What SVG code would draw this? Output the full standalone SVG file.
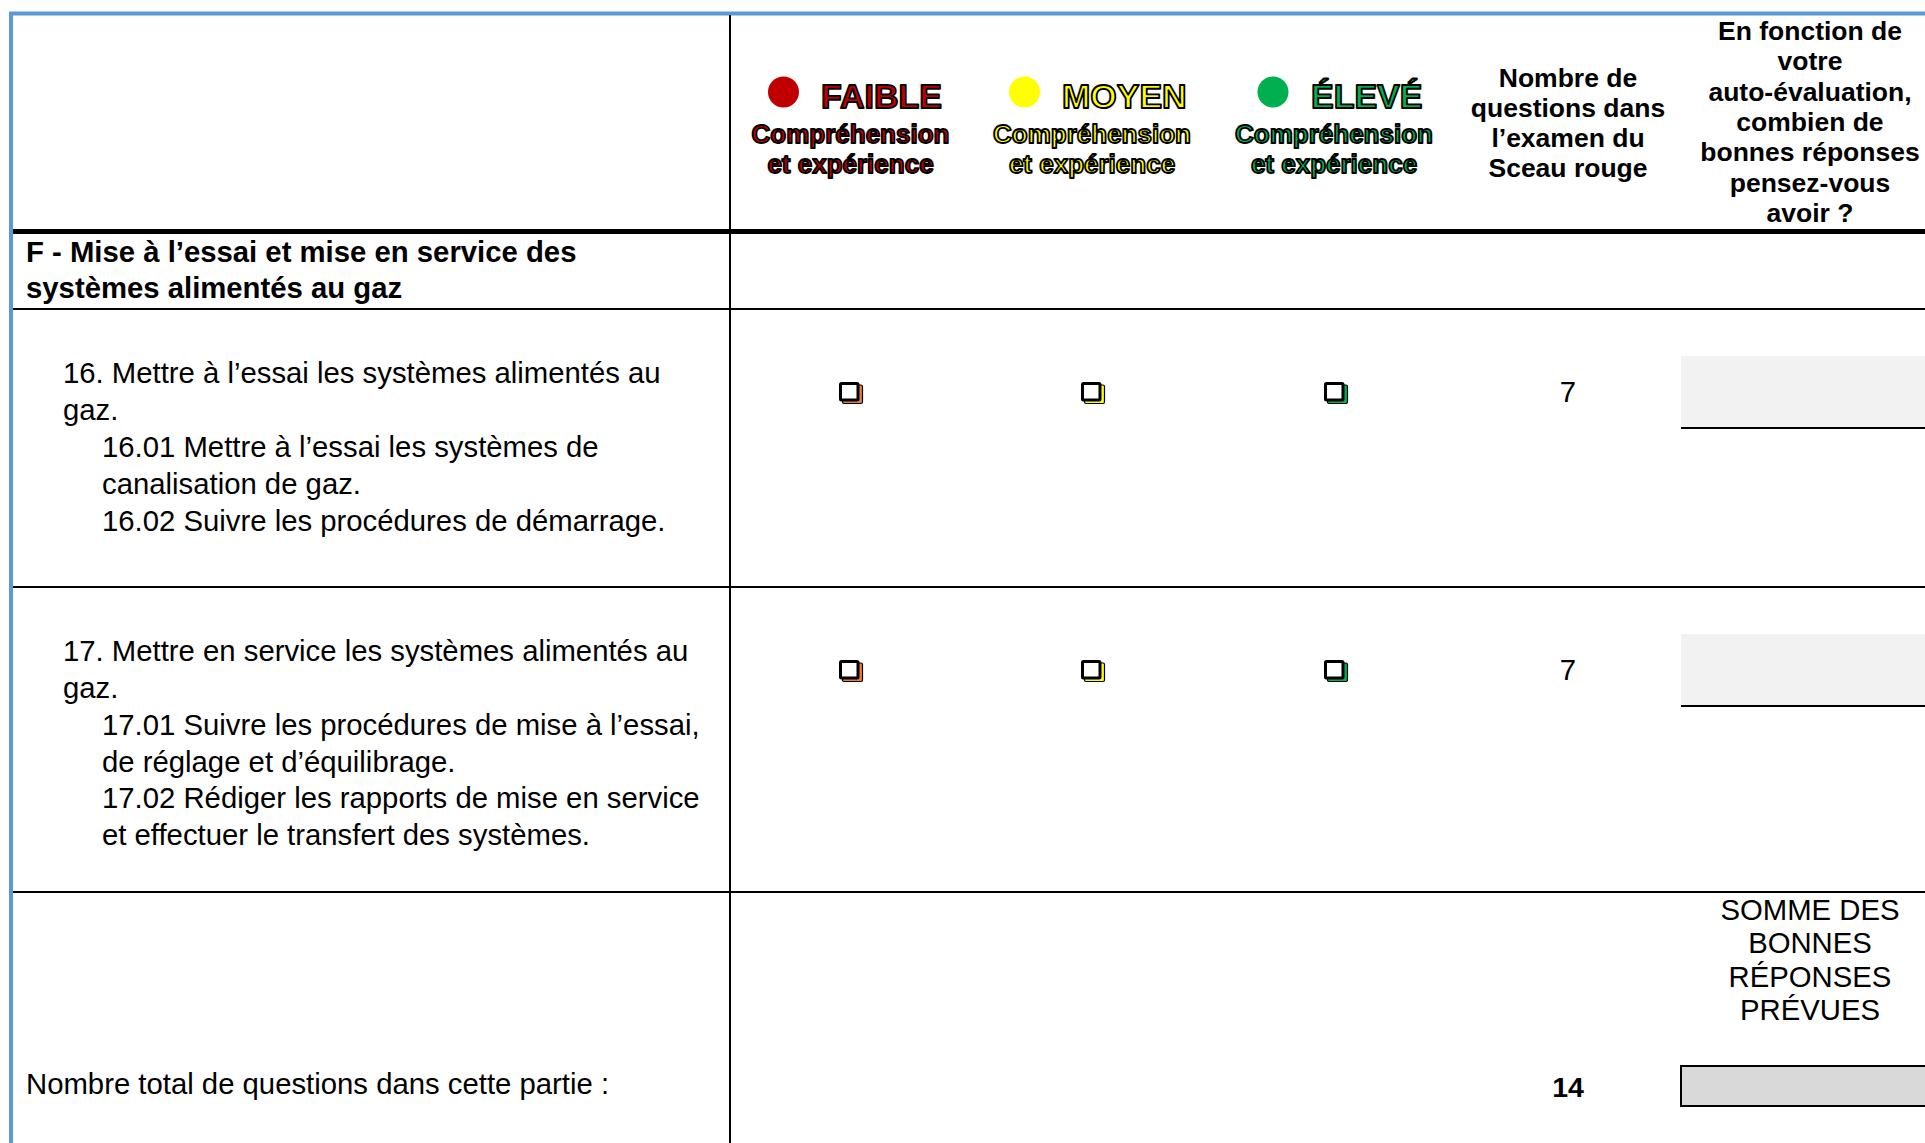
<svg xmlns="http://www.w3.org/2000/svg" xmlns:xlink="http://www.w3.org/1999/xlink" width="1925" height="1143" viewBox="0 0 1925 1143">
<style>
text{font-family:"Liberation Sans",Arial,sans-serif;fill:#000}
.b{font-weight:bold}
.body{font-size:29.3px}
.hdr{font-size:26.5px;font-weight:bold;text-anchor:middle}
.lvl{font-size:34px;font-weight:bold;stroke:#000;stroke-width:1.8;stroke-linejoin:round}
.sub{font-size:26px;font-weight:bold;text-anchor:middle;stroke:#000;stroke-width:1.8;stroke-linejoin:round}
.red{fill:#c00000}.yel{fill:#ffff00}.grn{fill:#00b050}
.mid{text-anchor:middle}
.ln{stroke:#000;fill:none}
</style>
<defs>
<g id="cb">
<rect x="3.5" y="3" width="20" height="18.5" rx="1.5" fill="currentColor" stroke="#000" stroke-width="1.2"/>
<rect x="1.5" y="1.5" width="17.5" height="16.5" rx="1" fill="#fff" stroke="#000" stroke-width="3"/>
</g>
</defs>
<rect width="1925" height="1143" fill="#fff"/>

<g id="connectors">
<path d="M11,1143 V13.5 H1925" fill="none" stroke="#5b9bd5" stroke-width="4"/>
<line class="ln" x1="730" y1="15" x2="730" y2="1143" stroke-width="2"/>
<line class="ln" x1="13" y1="231.5" x2="1925" y2="231.5" stroke-width="5"/>
<line class="ln" x1="13" y1="309" x2="1925" y2="309" stroke-width="2"/>
<line class="ln" x1="13" y1="587" x2="1925" y2="587" stroke-width="2"/>
<line class="ln" x1="13" y1="892" x2="1925" y2="892" stroke-width="2"/>
</g>

<g id="head-faible">
<circle cx="783.5" cy="92" r="15.5" fill="#c00000"/>
<text class="lvl red" x="821" y="108">FAIBLE</text>
<text class="sub red" x="850.5" y="143">Compréhension</text>
<text class="sub red" x="850.5" y="173">et expérience</text>
</g>
<g id="head-moyen">
<circle cx="1024.5" cy="92" r="15.5" fill="#ffff00"/>
<text class="lvl yel" x="1062" y="108">MOYEN</text>
<text class="sub yel" x="1092" y="143">Compréhension</text>
<text class="sub yel" x="1092" y="173">et expérience</text>
</g>
<g id="head-eleve">
<circle cx="1273" cy="92" r="15.5" fill="#00b050"/>
<text class="lvl grn" x="1311" y="108">ÉLEVÉ</text>
<text class="sub grn" x="1334" y="143">Compréhension</text>
<text class="sub grn" x="1334" y="173">et expérience</text>
</g>
<g id="head-nombre">
<text class="hdr" x="1568" y="87">Nombre de</text>
<text class="hdr" x="1568" y="117">questions dans</text>
<text class="hdr" x="1568" y="147">l’examen du</text>
<text class="hdr" x="1568" y="177">Sceau rouge</text>
</g>
<g id="head-auto">
<text class="hdr" x="1810" y="40">En fonction de</text>
<text class="hdr" x="1810" y="70.3">votre</text>
<text class="hdr" x="1810" y="100.7">auto-évaluation,</text>
<text class="hdr" x="1810" y="131">combien de</text>
<text class="hdr" x="1810" y="161.3">bonnes réponses</text>
<text class="hdr" x="1810" y="191.7">pensez-vous</text>
<text class="hdr" x="1810" y="222">avoir ?</text>
</g>

<g id="section-f">
<text class="body b" x="26" y="262">F - Mise à l’essai et mise en service des</text>
<text class="body b" x="26" y="298">systèmes alimentés au gaz</text>
</g>

<g id="row-16">
<text class="body" x="63" y="383">16. Mettre à l’essai les systèmes alimentés au</text>
<text class="body" x="63" y="420">gaz.</text>
<text class="body" x="102" y="457">16.01 Mettre à l’essai les systèmes de</text>
<text class="body" x="102" y="494">canalisation de gaz.</text>
<text class="body" x="102" y="531">16.02 Suivre les procédures de démarrage.</text>
<use xlink:href="#cb" href="#cb" x="839" y="382" color="#ed7d31"/>
<use xlink:href="#cb" href="#cb" x="1081" y="382" color="#ffff00"/>
<use xlink:href="#cb" href="#cb" x="1324" y="382" color="#00b050"/>
<text class="body mid" x="1568" y="402">7</text>
<rect x="1681" y="356" width="244" height="72" fill="#f2f2f2"/>
<line class="ln" x1="1681" y1="428" x2="1925" y2="428" stroke-width="2"/>
</g>

<g id="row-17">
<text class="body" x="63" y="661">17. Mettre en service les systèmes alimentés au</text>
<text class="body" x="63" y="698">gaz.</text>
<text class="body" x="102" y="735">17.01 Suivre les procédures de mise à l’essai,</text>
<text class="body" x="102" y="772">de réglage et d’équilibrage.</text>
<text class="body" x="102" y="808">17.02 Rédiger les rapports de mise en service</text>
<text class="body" x="102" y="845">et effectuer le transfert des systèmes.</text>
<use xlink:href="#cb" href="#cb" x="839" y="660" color="#ed7d31"/>
<use xlink:href="#cb" href="#cb" x="1081" y="660" color="#ffff00"/>
<use xlink:href="#cb" href="#cb" x="1324" y="660" color="#00b050"/>
<text class="body mid" x="1568" y="680">7</text>
<rect x="1681" y="634" width="244" height="72" fill="#f2f2f2"/>
<line class="ln" x1="1681" y1="706" x2="1925" y2="706" stroke-width="2"/>
</g>

<g id="row-total">
<text class="body" x="26" y="1094">Nombre total de questions dans cette partie :</text>
<text class="body b mid" x="1568" y="1097" style="font-size:28.5px">14</text>
<text class="body mid" x="1810" y="920">SOMME DES</text>
<text class="body mid" x="1810" y="953">BONNES</text>
<text class="body mid" x="1810" y="987">RÉPONSES</text>
<text class="body mid" x="1810" y="1020">PRÉVUES</text>
<rect x="1681" y="1066" width="250" height="40" fill="#d9d9d9" stroke="#000" stroke-width="2"/>
</g>
</svg>
